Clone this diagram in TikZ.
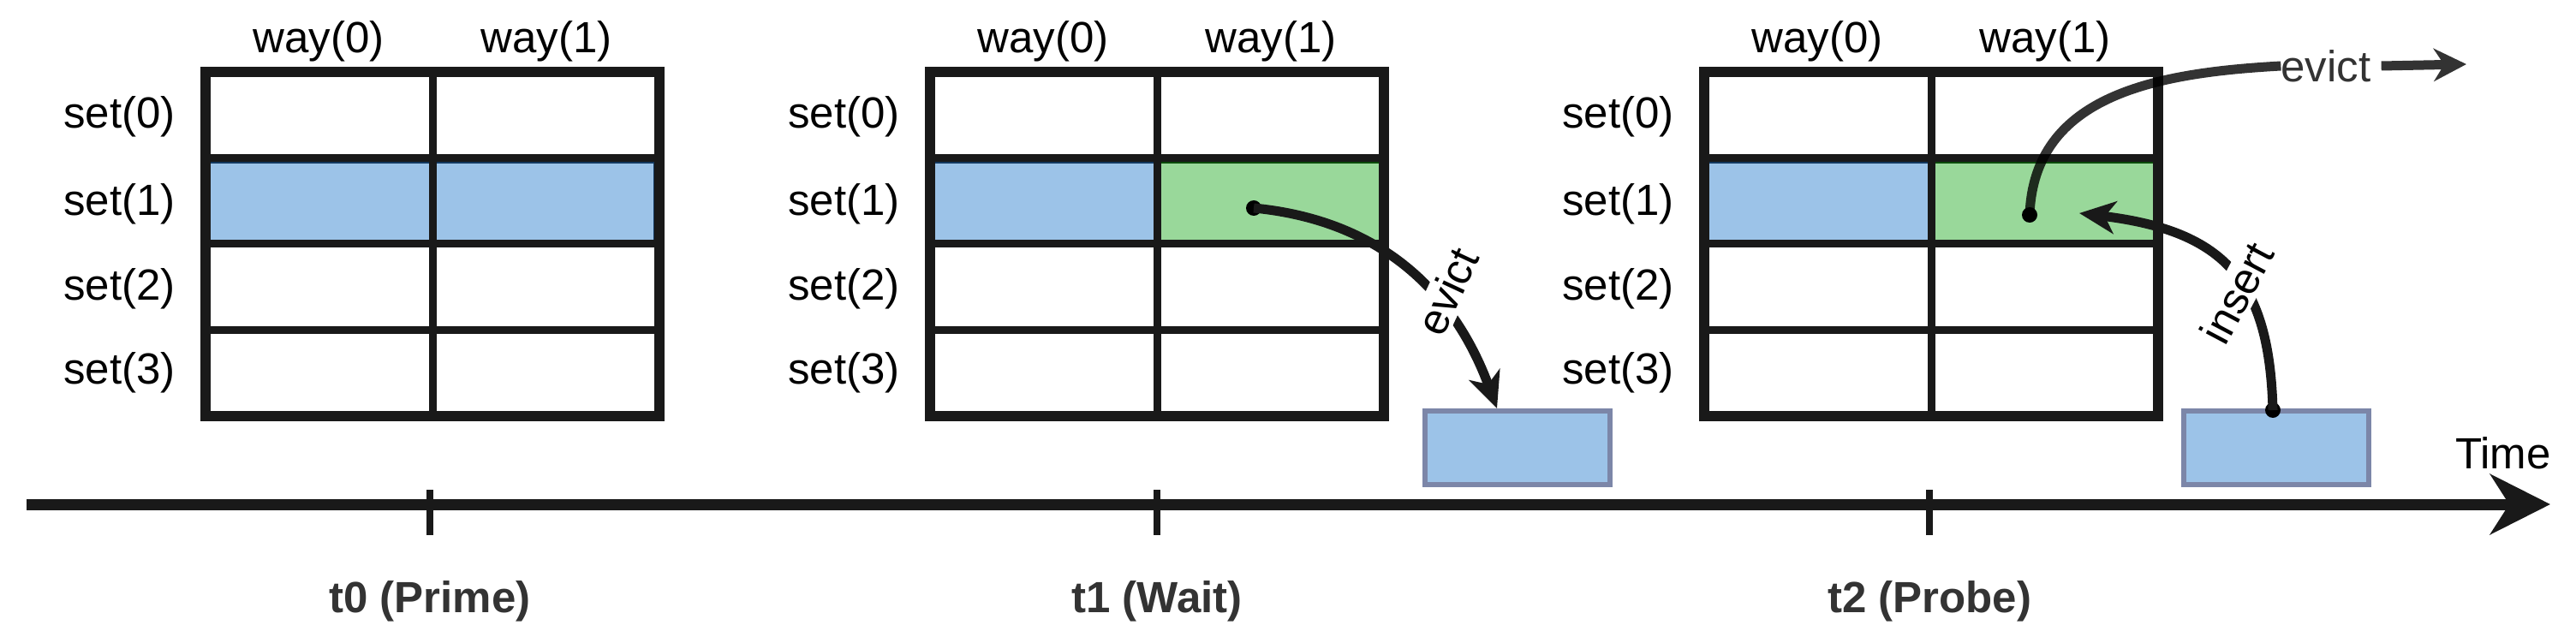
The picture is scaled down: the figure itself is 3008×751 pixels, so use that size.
\documentclass[tikz,border=0pt]{standalone}
\usepackage{fontspec}
\setmainfont{Liberation Sans}
\usetikzlibrary{arrows.meta}
\definecolor{cblue}{HTML}{9CC3E8}
\definecolor{cbluedk}{HTML}{12385E}
\definecolor{cgreen}{HTML}{99D89A}
\definecolor{cgreendk}{HTML}{0B4A0B}
\definecolor{boxedge}{HTML}{7C86A8}
\definecolor{lab}{HTML}{333333}
\tikzset{
  txt/.style={font=\fontsize{51}{60}\selectfont, inner sep=0pt},
  btxt/.style={font=\fontsize{51}{60}\selectfont\bfseries, text=lab, inner sep=0pt},
  outer/.style={line width=12pt, draw=black!90},
  inner/.style={line width=9pt, draw=black!90},
  bluecell/.style={fill=cblue, draw=cbluedk, line width=4pt},
  greencell/.style={fill=cgreen, draw=cgreendk, line width=4pt},
  mem/.style={fill=cblue, draw=boxedge, line width=6pt, minimum width=216pt, minimum height=86pt, inner sep=0pt},
  conn/.style={line width=11pt, draw=black!90, -{Stealth[length=42pt,width=38pt,inset=12pt]}},
  dot/.style={circle, fill=black, inner sep=0pt, minimum size=18pt},
  lbl/.style={txt, fill=white, inner sep=4pt},
}
\begin{document}
\begin{tikzpicture}[x=1pt,y=-1pt]
\useasboundingbox (0,0) rectangle (3008,751);
\fill[white] (0,0) rectangle (3008,751);
% set(1) fills
\draw[bluecell] (244,189) rectangle (765,282);
\draw[bluecell] (1090,189) rectangle (1349,282);
\draw[greencell] (1353,189) rectangle (1612,282);
\draw[bluecell] (1994,189) rectangle (2253,282);
\draw[greencell] (2257,189) rectangle (2516,282);
% grids
\foreach \g/\L in {a/240, b/1086, c/1990} {
  \pgfmathsetmacro{\M}{\L+265}
  \pgfmathsetmacro{\R}{\L+530}
  \foreach \yy in {185,285,385} \draw[inner] (\L,\yy) -- (\R,\yy);
  \draw[inner] (\M,84) -- (\M,486);
  \draw[outer] (\L,84) rectangle (\R,486);
  \node[txt] (way0\g) at (\L+132,48) {way(0)};
  \node[txt] (way1\g) at (\L+398,48) {way(1)};
  \foreach \i/\yy in {0/136,1/238,2/337,3/435}
    \node[txt, anchor=east] (set\i\g) at (\L-35,\yy) {set(\i)};
}
% time axis
\coordinate (ax0) at (31,589);
\coordinate (ax1) at (2978,589);
\draw[line width=13pt, draw=black!90, -{Stealth[length=70pt,width=70pt,inset=22pt]}] (ax0) -- (ax1);
\foreach \n/\xx/\t in {0/502/t0 (Prime),1/1351/t1 (Wait),2/2253/t2 (Probe)} {
  \draw[line width=8pt, draw=black!90] (\xx,572) -- (\xx,625);
  \node[btxt] (tl\n) at (\xx,702) {\t};
}
\node[txt] (time) at (2923,529) {Time};
% memory boxes
\node[mem] (m1) at (1772,523) {};
\node[mem] (m2) at (2658,523) {};
% t1 evict
\node[dot] (d1) at (1464,243) {};
\draw[conn] (d1.center) .. controls (1590,255) and (1690,320) .. (m1.north -| 1748,0);
\node[lbl, rotate=65] (ev1) at (1690,340) {evict};
% t2 evict
\node[dot] (d2) at (2370,251) {};
\node[txt, text=lab] (ev2) at (2716,77) {evict};
\coordinate (evtip) at (2880,75);
\draw[line width=11pt, draw=black, opacity=0.8] (d2.center) .. controls (2375,110) and (2520,85) .. (ev2.west);
\draw[line width=11pt, draw=black!80, -{Stealth[length=38pt,width=38pt,inset=12pt]}] (ev2.east) ++(12pt,0) -- (evtip);
% insert
\node[dot] (d3) at (2654,479) {};
\coordinate (instip) at (2428,249);
\draw[conn] (d3.center) .. controls (2650,330) and (2600,270) .. (instip);
\node[lbl, rotate=62] (ins) at (2612,342) {insert};
\end{tikzpicture}
\end{document}
